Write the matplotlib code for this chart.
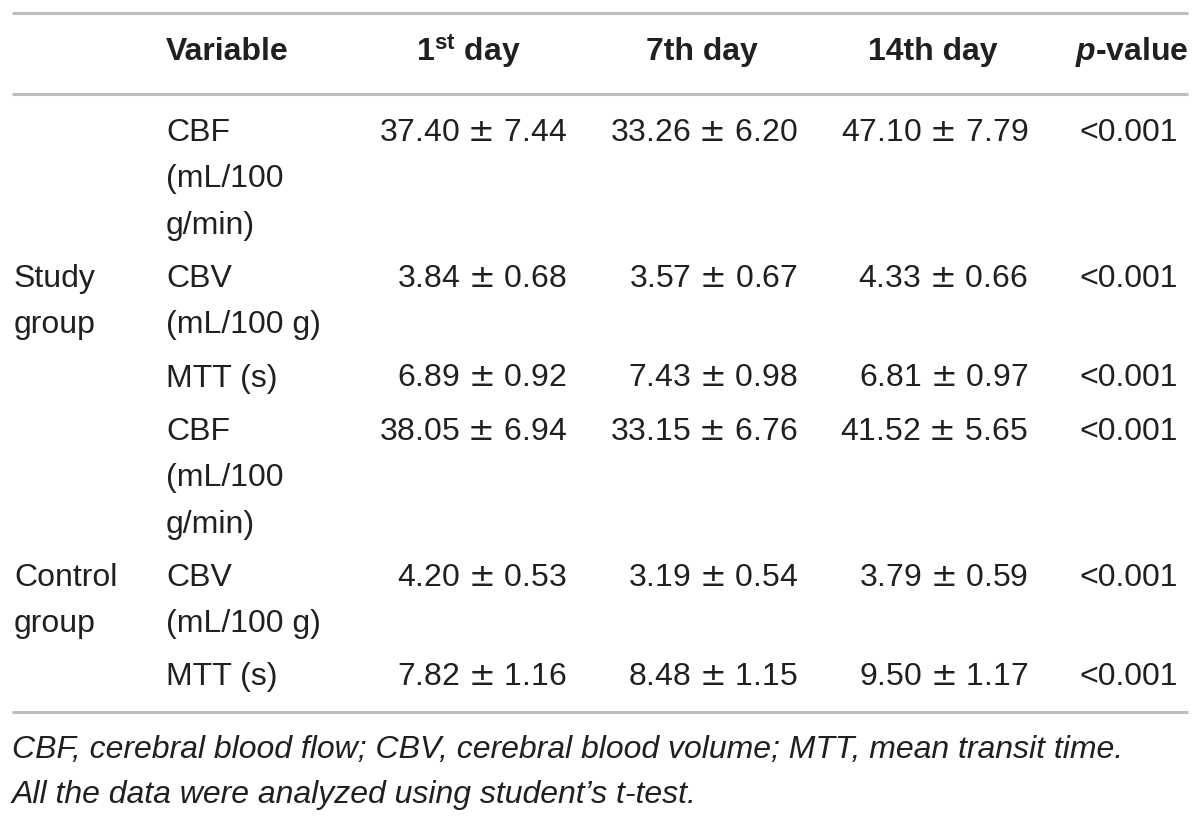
import matplotlib
matplotlib.use("Agg")
import matplotlib.pyplot as plt

plt.rcParams["font.family"] = ["Liberation Sans", "DejaVu Sans"]
plt.rcParams["mathtext.fontset"] = "custom"
plt.rcParams["mathtext.rm"] = "Liberation Sans"
plt.rcParams["mathtext.bf"] = "Liberation Sans:bold"
plt.rcParams["mathtext.it"] = "Liberation Sans:italic"
plt.rcParams["mathtext.bfit"] = "Liberation Sans:italic:bold"

# table content
headers = ["Variable", r"1$^{\mathbf{st}}$ day", "7th day", "14th day", r"$\mathbfit{p}$-value"]
groups = ["Study\ngroup", "Control\ngroup"]
variables = ["CBF\n(mL/100\ng/min)", "CBV\n(mL/100 g)", "MTT (s)",
             "CBF\n(mL/100\ng/min)", "CBV\n(mL/100 g)", "MTT (s)"]
day1 = ["37.40 \u00b1 7.44", "3.84 \u00b1 0.68", "6.89 \u00b1 0.92",
        "38.05 \u00b1 6.94", "4.20 \u00b1 0.53", "7.82 \u00b1 1.16"]
day7 = ["33.26 \u00b1 6.20", "3.57 \u00b1 0.67", "7.43 \u00b1 0.98",
        "33.15 \u00b1 6.76", "3.19 \u00b1 0.54", "8.48 \u00b1 1.15"]
day14 = ["47.10 \u00b1 7.79", "4.33 \u00b1 0.66", "6.81 \u00b1 0.97",
         "41.52 \u00b1 5.65", "3.79 \u00b1 0.59", "9.50 \u00b1 1.17"]
pvals = ["<0.001"] * 6
footnote = ["CBF, cerebral blood flow; CBV, cerebral blood volume; MTT, mean transit time.",
            "All the data were analyzed using student\u2019s t-test."]

txt = "#231f20"
rule = "#bdbdbd"
fs = 23


def pm(s):
    # wider plus-minus sign, like the source's typesetting
    return s.replace("\u00b1", r"$\pm$")


fig = plt.figure(figsize=(12, 8.19), dpi=100)
ax = fig.add_axes([0, 0, 1, 1])
ax.set_xlim(0, 1200)
ax.set_ylim(819, 0)
ax.axis("off")

# horizontal rules
for y in [13, 94, 712]:
    ax.plot([12, 1188], [y, y], color=rule, lw=2.2, solid_capstyle="butt")

# header row
hx = [166, 468, 702, 933, 1132]
ha_h = ["left", "center", "center", "center", "center"]
for x, h, a in zip(hx, headers, ha_h):
    ax.text(x, 52, h, fontsize=fs, fontweight="bold", color=txt, ha=a, va="center")

# body rows
line_h = 46.5
gap = 53
ys = []
y = 133
for v in variables:
    ys.append(y)
    n = v.count("\n") + 1
    y += (n - 1) * line_h + gap

right_x = [567, 798, 1028]
for i, v in enumerate(variables):
    for k, part in enumerate(v.split("\n")):
        ax.text(166, ys[i] + k * line_h, part, fontsize=fs, color=txt,
                ha="left", va="center")
    for x, col in zip(right_x, [day1, day7, day14]):
        ax.text(x, ys[i], pm(col[i]), fontsize=fs, color=txt, ha="right",
                va="center", math_fontfamily="dejavusans")
    ax.text(1178, ys[i], pvals[i], fontsize=fs, color=txt, ha="right", va="center")

# group labels next to the middle variable of each group
for g, idx in zip(groups, [1, 4]):
    for k, part in enumerate(g.split("\n")):
        ax.text(14, ys[idx] + k * line_h, part, fontsize=fs, color=txt,
                ha="left", va="center")

# footnote
for k, f in enumerate(footnote):
    ax.text(12, 750 + k * 45, f, fontsize=fs, style="italic", color=txt,
            ha="left", va="center")

fig.savefig("out.png", dpi=100)
